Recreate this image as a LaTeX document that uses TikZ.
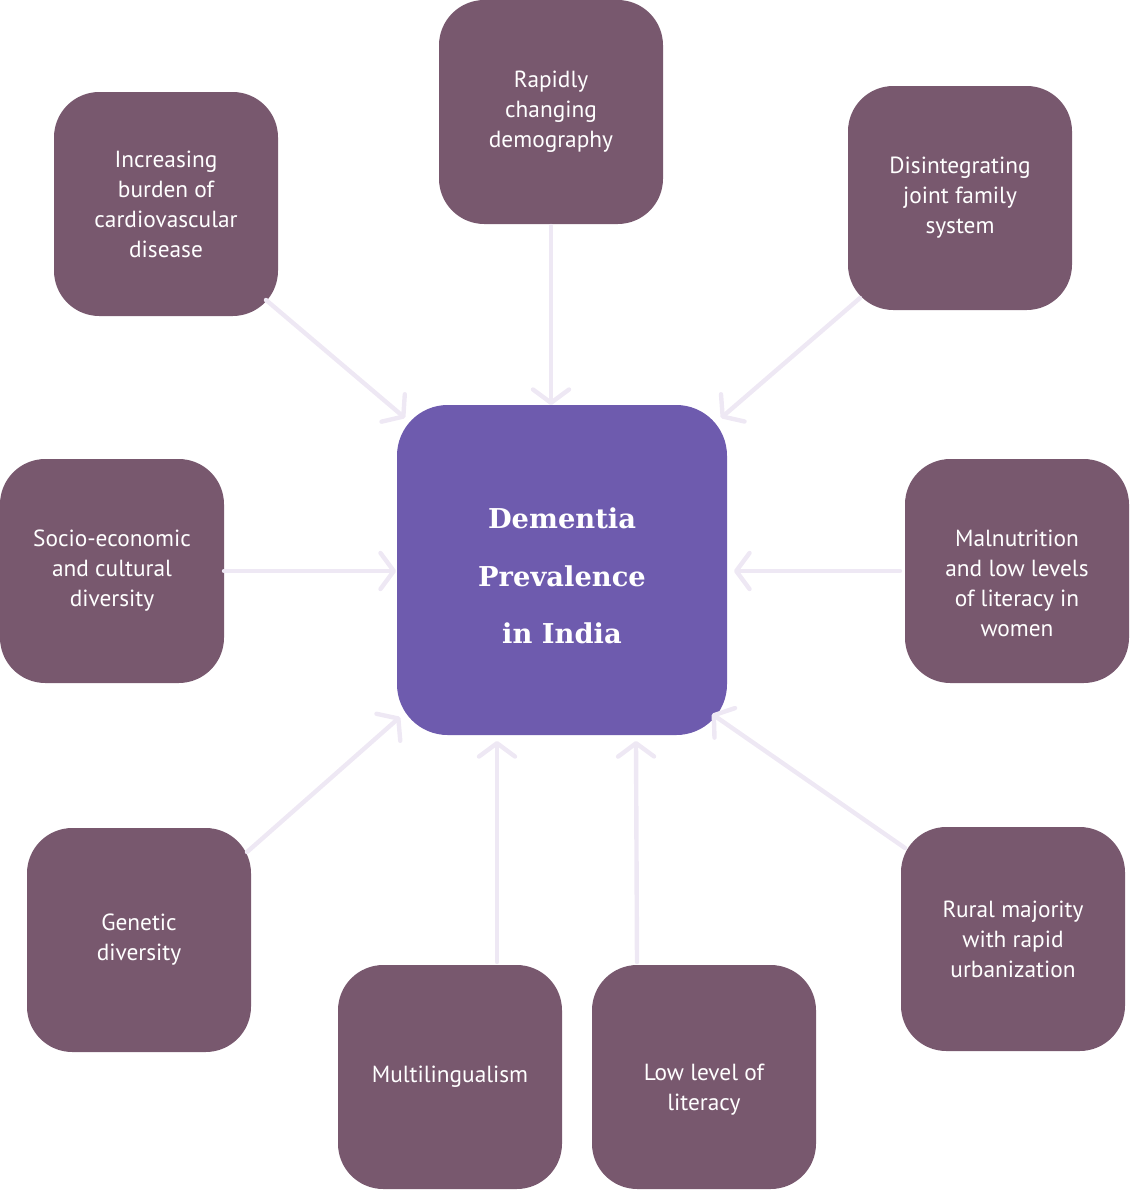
\documentclass[tikz,border=0pt]{standalone}
\usepackage{fontspec}
\setmainfont{PT Sans}
\newfontfamily\slabfont{DejaVu Serif}
\usetikzlibrary{arrows.meta}
\definecolor{boxc}{HTML}{78586E}
\definecolor{centc}{HTML}{6E5BAE}
\definecolor{arrc}{HTML}{EEE8F4}
\begin{document}
\begin{tikzpicture}[x=0.75pt,y=-0.75pt,
 factor/.style={fill=boxc, text=white, rounded corners=34pt, minimum width=168pt, minimum height=168pt, inner sep=0pt, align=center, font=\fontsize{17.5}{22.5}\selectfont},
 factortext/.style={text=white, inner sep=0pt, align=center, font=\fontsize{17.5}{22.5}\selectfont},
 core/.style={fill=centc, rounded corners=38pt, minimum width=247.5pt, minimum height=247.5pt, inner sep=0pt},
 coretext/.style={text=white, align=center, inner sep=0pt, font=\slabfont\bfseries\fontsize{20.5}{43}\selectfont},
 arr/.style={draw=arrc, line width=3.3pt, line cap=round, -{Straight Barb[length=10pt,width=27pt,line cap=round,line join=round]}}]
\useasboundingbox (0,0) rectangle (1130,1190);

\node[core] (c) at (562,570) {};
\node[coretext] (ct) at (562,576) {Dementia\\Prevalence\\in India};

\node[factor] (top) at (551,112) {Rapidly\\changing\\demography};
\node[factor] (tl) at (166,204) {Increasing\\burden of\\cardiovascular\\disease};
\node[factor] (tr) at (960,198) {Disintegrating\\joint family\\system};
\node[factor] (l) at (112,571) {Socio-economic\\and cultural\\diversity};
\node[factor] (r) at (1017,571) {};
\node[factortext] (rt) at (1017,583) {Malnutrition\\and low levels\\of literacy in\\women};
\node[factor] (bl) at (139,940) {Genetic\\diversity};
\node[factor] (bml) at (450,1077) {Multilingualism};
\node[factor] (bmr) at (704,1077) {};
\node[factortext] (bmrt) at (704,1090) {Low level of\\literacy};
\node[factor] (br) at (1013,939) {Rural majority\\with rapid\\urbanization};

% arrow ends
\coordinate (topS) at (551,226);
\coordinate (topE) at (551,405);
\coordinate (tlS) at (266,300);
\coordinate (tlE) at (405,418);
\coordinate (trS) at (860,298);
\coordinate (trE) at (721,418);
\coordinate (lS) at (224,571);
\coordinate (lE) at (396,571);
\coordinate (rS) at (900,571);
\coordinate (rE) at (734,571);
\coordinate (blS) at (247,852);
\coordinate (blE) at (400,717);
\coordinate (bmlS) at (497,962);
\coordinate (bmlE) at (497,741);
\coordinate (bmrS) at (637,962);
\coordinate (bmrE) at (636,741);
\coordinate (brS) at (905,848);
\coordinate (brE) at (712,714);

\draw[arr] (topS) -- (topE);
\draw[arr] (tlS) -- (tlE);
\draw[arr] (trS) -- (trE);
\draw[arr] (lS) -- (lE);
\draw[arr] (rS) -- (rE);
\draw[arr] (blS) -- (blE);
\draw[arr] (bmlS) -- (bmlE);
\draw[arr] (bmrS) -- (bmrE);
\draw[arr] (brS) -- (brE);
\end{tikzpicture}
\end{document}
